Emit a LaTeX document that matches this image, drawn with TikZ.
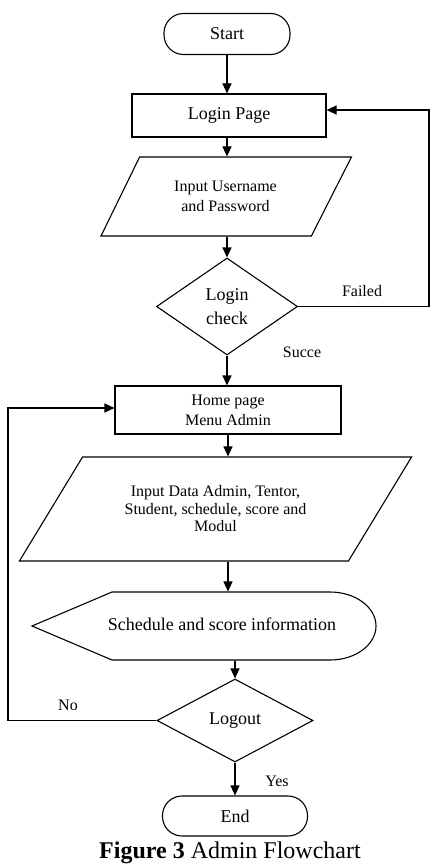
\documentclass[tikz,border=0pt]{standalone}
\usepackage{fontspec}
\setmainfont{Liberation Serif}
\usetikzlibrary{shapes.geometric,arrows.meta}
\begin{document}
\begin{tikzpicture}[x=1pt,y=-1pt,
  line width=1.1pt,
  arr/.style={-{Triangle[length=10pt,width=9pt]}},
  big/.style={font=\fontsize{18}{24}\selectfont},
  mid/.style={font=\fontsize{16}{20}\selectfont},
  term/.style={draw,rectangle,rounded corners=19.5pt,inner sep=0pt,big},
  proc/.style={draw,rectangle,inner sep=0pt,align=center},
  dec/.style={draw,diamond,inner sep=0pt,align=center,big},
  para/.style={draw,trapezium,trapezium stretches=true,inner sep=0pt,align=center,mid},
  ghost/.style={rectangle,inner sep=0pt,align=center},
  lab/.style={mid,inner sep=0pt,anchor=base}]
\useasboundingbox (0,0) rectangle (431,864);

\node[term,minimum width=126pt,minimum height=41pt] (start) at (227,34) {Start};
\node[proc,big,minimum width=194pt,minimum height=43pt] (login) at (229,115.5) {Login Page};
\node[para,trapezium left angle=53,trapezium right angle=128,minimum width=251pt,minimum height=79pt] (inp1) at (225.5,196.5) {Input Username\\and Password};
\node[dec,minimum width=141pt,minimum height=97pt] (check) at (227,306.5) {Login\\check};
\node[proc,mid,minimum width=226pt,minimum height=48pt] (home) at (228,410) {Home page\\Menu Admin};
\node[para,font=\fontsize{16}{17.5}\selectfont,trapezium left angle=47,trapezium right angle=133,minimum width=393pt,minimum height=104pt] (inp2) at (215.5,509) {Input Data Admin, Tentor,\\Student, schedule, score and\\Modul};

% display shape
\draw (112,592) -- (330,592) .. controls (355.4,592) and (376,607.2) .. (376,626)
      .. controls (376,644.8) and (355.4,660) .. (330,660) -- (112,660) -- (32,626) -- cycle;
\node[ghost,minimum width=344pt,minimum height=68pt] (disp) at (204,626) {};
\node[ghost,big] (disptext) at (222,624) {Schedule and score information};

\node[dec,minimum width=156pt,minimum height=83pt] (logout) at (235,720.5) {Logout};
\node[term,minimum width=145pt,minimum height=40pt] (end) at (235,816) {End};

% connectors
\draw[arr] (start.south) -- (start.south |- login.north);
\draw[arr] (login.south -| start) -- (inp1.north -| start);
\draw[arr] (inp1.south -| check) -- (check.north);
\draw[arr] (check.south) -- (check.south |- home.north);
\draw[arr] (home.south) -- (inp2.north -| home);
\draw[arr] (inp2.south -| home) -- (disp.north -| home);
\draw[arr] (disp.south -| logout) -- (logout.north);
\draw[arr] (logout.south) -- (logout.south |- end.north);
\coordinate (rr) at (429,306.5);
\draw[arr] (check.east) -- (rr) |- ([yshift=5.5pt]login.east);
\coordinate (ll) at (8,720.5);
\draw[arr] (logout.west) -- (ll) |- ([yshift=2pt]home.west);

% labels
\node[lab] (failed) at (362,296) {Failed};
\node[lab] (succ) at (302,357) {Succe};
\node[lab] (no) at (68,710) {No};
\node[lab] (yes) at (277,786) {Yes};

\node[font=\fontsize{24}{28}\selectfont,anchor=base,inner sep=0pt] (cap) at (230,858) {\textbf{Figure 3} Admin Flowchart};
\end{tikzpicture}
\end{document}
